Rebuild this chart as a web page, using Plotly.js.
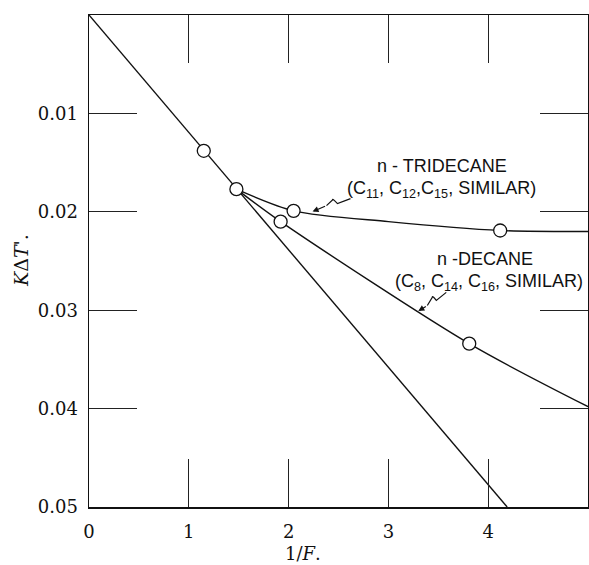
<!DOCTYPE html>
<html>
<head>
<meta charset="utf-8">
<script src="https://cdn.plot.ly/plotly-3.0.1.min.js"></script>
<style>html,body{margin:0;padding:0;background:#fff;}#chart{width:589px;height:565px;}</style>
</head>
<body>
<div id="chart"></div>
<script>
// ---- data ----
const straightX = [0, 4.19];
const straightY = [0, 0.05];

const tridecaneX = [1.477, 2.05, 3.0, 4.12, 5.0];
const tridecaneY = [0.0177, 0.0199, 0.0210, 0.0219, 0.0220];

const decaneX = [1.477, 1.92, 3.81, 5.0];
const decaneY = [0.0177, 0.0210, 0.0334, 0.0398];

const pointsX = [1.15, 1.477, 2.05, 1.92, 4.12, 3.81];
const pointsY = [0.0138, 0.0177, 0.0199, 0.0210, 0.0219, 0.0334];

const xTickVals = [0, 1, 2, 3, 4];
const xTickText = ["0", "1", "2", "3", "4"];
const yTickVals = [0.01, 0.02, 0.03, 0.04, 0.05];
const yTickText = ["0.01", "0.02", "0.03", "0.04", "0.05"];

const triLabel1 = "n - TRIDECANE";
const triLabel2 = "(C<sub>11</sub>, C<sub>12</sub>,C<sub>15</sub>, SIMILAR)";
const decLabel1 = "n -DECANE";
const decLabel2 = "(C<sub>8</sub>, C<sub>14</sub>, C<sub>16</sub>, SIMILAR)";

// squiggle leader lines (data coords)
const triSquiggle = [[2.62, 0.01866], [2.49, 0.01916], [2.44, 0.01880], [2.38, 0.01937]];
const triTip = [2.24, 0.01998];
const decSquiggle = [[3.58, 0.02819], [3.48, 0.02901], [3.44, 0.02868], [3.39, 0.02952]];
const decTip = [3.30, 0.03008];

const lineStyle = {color: '#111', width: 1.4};
const traces = [
  {x: straightX, y: straightY, mode: 'lines', line: lineStyle, hoverinfo: 'skip'},
  {x: tridecaneX, y: tridecaneY, mode: 'lines', line: Object.assign({shape: 'spline', smoothing: 0.8}, lineStyle)},
  {x: decaneX, y: decaneY, mode: 'lines', line: Object.assign({shape: 'spline', smoothing: 0.8}, lineStyle)},
  {x: pointsX, y: pointsY, mode: 'markers',
   marker: {symbol: 'circle', size: 13, color: '#fff', line: {color: '#111', width: 1.3}}}
];

function pathOf(pts) {
  let d = 'M ' + pts[0][0] + ',' + pts[0][1] + ' L ' + pts[1][0] + ',' + pts[1][1];
  d += ' Q ' + (pts[2][0]) + ',' + (pts[2][1] - 0.0002) + ' ' + pts[2][0] + ',' + pts[2][1];
  d += ' L ' + pts[3][0] + ',' + pts[3][1];
  return d;
}

const sansFont = {family: 'Liberation Sans, Arial, sans-serif', size: 18, color: '#111'};
const serifFont = {family: 'DejaVu Serif, serif', size: 18, color: '#111'};

const layout = {
  width: 589, height: 565,
  margin: {l: 89, r: 1, t: 15, b: 58},
  paper_bgcolor: '#fff', plot_bgcolor: '#fff',
  showlegend: false,
  xaxis: {
    range: [0, 5], tickvals: xTickVals, ticktext: xTickText,
    ticks: 'inside', ticklen: 48, tickwidth: 1, tickcolor: '#222',
    showline: true, linewidth: 1.5, linecolor: '#111', mirror: 'ticks',
    showgrid: false, zeroline: false, tickfont: serifFont, ticklabelstandoff: 8
  },
  yaxis: {
    range: [0.05, 0], tickvals: yTickVals, ticktext: yTickText,
    ticks: 'inside', ticklen: 48, tickwidth: 1, tickcolor: '#222',
    showline: true, linewidth: 1.5, linecolor: '#111', mirror: 'ticks',
    showgrid: false, zeroline: false, tickfont: serifFont, ticklabelstandoff: 6
  },
  shapes: [
    {type: 'path', xref: 'x', yref: 'y', path: pathOf(triSquiggle), line: {color: '#111', width: 1.2}},
    {type: 'path', xref: 'x', yref: 'y', path: pathOf(decSquiggle), line: {color: '#111', width: 1.2}}
  ],
  annotations: [
    {x: 3.54, y: 0.01645, xref: 'x', yref: 'y', yanchor: 'bottom', text: triLabel1, showarrow: false, font: sansFont, borderpad: 0},
    {x: 3.53, y: 0.01645, xref: 'x', yref: 'y', yanchor: 'top', text: triLabel2, showarrow: false, font: sansFont, borderpad: 0},
    {x: 3.97, y: 0.0259, xref: 'x', yref: 'y', yanchor: 'bottom', text: decLabel1, showarrow: false, font: sansFont, borderpad: 0},
    {x: 4.01, y: 0.0259, xref: 'x', yref: 'y', yanchor: 'top', text: decLabel2, showarrow: false, font: sansFont, borderpad: 0},
    {x: triTip[0], y: triTip[1], xref: 'x', yref: 'y', text: '', showarrow: true,
     ax: 14, ay: -6, arrowhead: 2, arrowsize: 1, arrowwidth: 1.2, arrowcolor: '#111', standoff: 0},
    {x: decTip[0], y: decTip[1], xref: 'x', yref: 'y', text: '', showarrow: true,
     ax: 9, ay: -5.5, arrowhead: 2, arrowsize: 1, arrowwidth: 1.2, arrowcolor: '#111', standoff: 0},
    {x: 2.14, y: 0, xref: 'x', yref: 'paper', yanchor: 'top', yshift: -34,
     text: '1/<i>F</i>.', showarrow: false, font: {family: 'DejaVu Serif, serif', size: 18, color: '#111'}},
    {x: 0, y: 0.5, xref: 'paper', yref: 'paper', xanchor: 'center', xshift: -68, textangle: -90,
     text: "<i>K</i>Δ<i>T</i>'.", showarrow: false, font: {family: 'DejaVu Serif, serif', size: 19, color: '#111'}}
  ]
};

Plotly.newPlot('chart', traces, layout, {displayModeBar: false, staticPlot: true});
</script>
</body>
</html>
